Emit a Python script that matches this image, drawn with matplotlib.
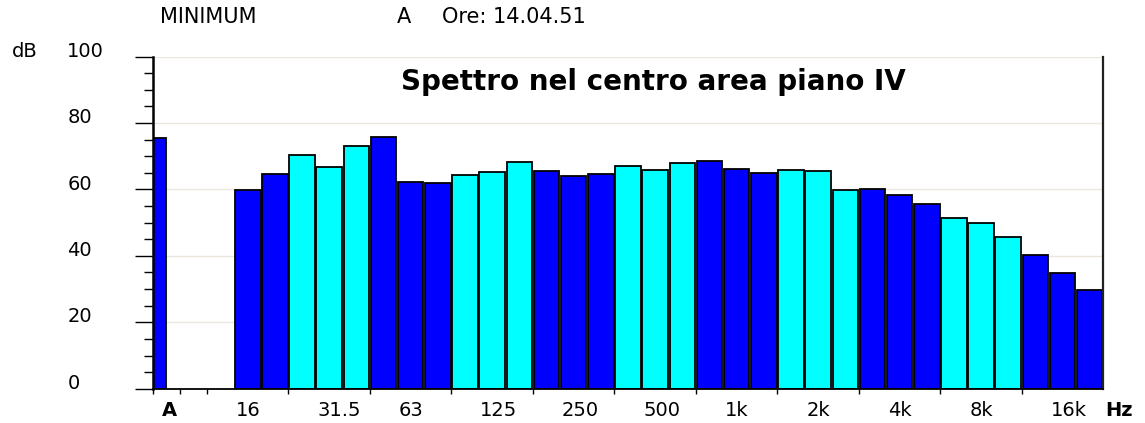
import numpy as np
import matplotlib
matplotlib.use("Agg")
import matplotlib.pyplot as plt
from matplotlib.transforms import blended_transform_factory

plt.rcParams['font.family'] = ['DejaVu Sans']

# ---- data ----
bands = ['12.5', '16', '20', '25', '31.5', '40', '50', '63', '80', '100', '125', '160',
         '200', '250', '315', '400', '500', '630', '800', '1k', '1.25k', '1.6k', '2k', '2.5k',
         '3.15k', '4k', '5k', '6.3k', '8k', '10k', '12.5k', '16k', '20k']
levels = [None, 59.8, 64.7, 70.4, 66.8, 73.0, 75.8, 62.2, 61.9, 64.4, 65.2, 68.4,
          65.5, 64.2, 64.7, 67.0, 65.8, 68.1, 68.6, 66.3, 65.0, 66.0, 65.7, 59.8,
          60.1, 58.3, 55.6, 51.4, 49.8, 45.7, 40.3, 34.8, 29.6]
overall_label = 'A'
overall_level = 75.6
shown_labels = ['16', '31.5', '63', '125', '250', '500', '1k', '2k', '4k', '8k', '16k']
yticks = [0, 20, 40, 60, 80, 100]
header_left = 'MINIMUM'
header_mid = 'A'
header_right = 'Ore: 14.04.51'
title = 'Spettro nel centro area piano IV'

BLUE = '#0000ff'
CYAN = '#00ffff'

W, H = 1145, 423
fig = plt.figure(figsize=(W / 100, H / 100), dpi=100)
x0, x1, ytop, ybot = 152.7, 1103.3, 56.7, 388.7
ax = fig.add_axes([x0 / W, (H - ybot) / H, (x1 - x0) / W, (ybot - ytop) / H])

first_slot = 2
nslots = first_slot + len(bands)
ax.set_xlim(0, nslots)
ax.set_ylim(0, 100)

# gridlines
ax.set_axisbelow(True)
for v in yticks[1:]:
    ax.axhline(v, color='#ebe7de', lw=1.0, zorder=0)

# overall A bar
ax.bar(0, overall_level, width=0.48, align='edge', color=BLUE,
       edgecolor='black', linewidth=1.3, zorder=2)

# band bars
for i, (b, v) in enumerate(zip(bands, levels)):
    if v is None:
        continue
    col = BLUE if (i // 3) % 2 == 0 else CYAN
    ax.bar(first_slot + i + 0.03, v, width=0.94, align='edge', color=col,
           edgecolor='black', linewidth=1.3, zorder=2)

# spines
ax.spines['top'].set_visible(False)
ax.spines['left'].set_linewidth(1.8)
ax.spines['bottom'].set_linewidth(1.3)
ax.spines['right'].set_linewidth(1.6)
ax.spines['right'].set_color('#222222')

TICKFS = 14

# y ticks
ax.set_yticks(yticks)
ax.set_yticks(np.arange(0, 101, 5), minor=True)
ax.tick_params(axis='y', which='major', length=13, width=1.0, pad=48.5,
               labelsize=TICKFS, color='black')
ax.tick_params(axis='y', which='minor', length=6.5, width=1.0, color='black')
for lbl in ax.get_yticklabels():
    lbl.set_ha('left')
    lbl.set_va('baseline')

# x ticks (group boundaries) and labels
tick_pos = [0, 1, 2] + [first_slot + 3 * k for k in range(1, 11)]
ax.set_xticks(tick_pos)
ax.set_xticklabels([''] * len(tick_pos))
ax.tick_params(axis='x', which='major', length=3.6, width=1.0, direction='out')

lab_pos = [0.6] + [first_slot + bands.index(l) + 0.06 for l in shown_labels]
ax.set_xticks(lab_pos, minor=True)
ax.set_xticklabels([overall_label] + shown_labels, minor=True)
ax.tick_params(axis='x', which='minor', length=0, pad=19.5, labelsize=TICKFS)
xl = ax.get_xticklabels(minor=True)
for k, lbl in enumerate(xl):
    lbl.set_va('baseline')
    if k == 0:
        lbl.set_ha('center')
        lbl.set_fontweight('bold')
    else:
        lbl.set_ha('left')

# Hz unit
fig.text(1105 / W, (H - 416) / H, 'Hz', fontsize=TICKFS, fontweight='bold',
         ha='left', va='baseline')

# dB unit
tr_db = blended_transform_factory(fig.transFigure, ax.transData)
ax.text(12 / W, 100, 'dB', transform=tr_db, fontsize=TICKFS, ha='left',
        va='baseline', clip_on=False)

# header
fig.text(160 / W, (H - 22.7) / H, header_left, fontsize=15, ha='left', va='baseline')
fig.text(397 / W, (H - 22.7) / H, header_mid, fontsize=15, ha='left', va='baseline')
fig.text(442 / W, (H - 22.7) / H, header_right, fontsize=15, ha='left', va='baseline')

# title inside plot
fig.text(653.5 / W, (H - 90) / H, title, fontsize=20, fontweight='bold',
         ha='center', va='baseline')

fig.savefig('out.png', dpi=100, facecolor='white')
